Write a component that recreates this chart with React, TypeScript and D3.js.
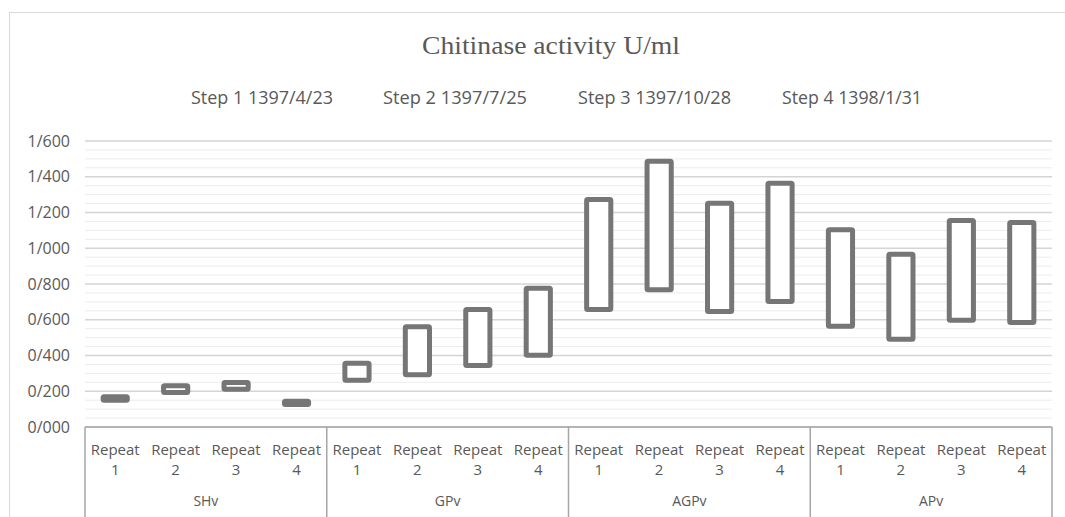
import React from "react";
import * as d3 from "d3";

// ---- data ----
const groups = ["SHv", "GPv", "AGPv", "APv"];
const repeats = ["1", "2", "3", "4"];
const legendLabels = ["Step 1 1397/4/23", "Step 2 1397/7/25", "Step 3 1397/10/28", "Step 4 1398/1/31"];
// top and bottom of each up/down bar, per group (4 repeats each)
const barTop = [
  [0.169, 0.231, 0.249, 0.144],
  [0.357, 0.561, 0.657, 0.776],
  [1.273, 1.487, 1.252, 1.364],
  [1.103, 0.967, 1.155, 1.144],
];
const barBottom = [
  [0.15, 0.193, 0.211, 0.126],
  [0.262, 0.292, 0.344, 0.402],
  [0.657, 0.768, 0.646, 0.702],
  [0.564, 0.491, 0.597, 0.585],
];
const yMax = 1.6;

// ---- layout ----
const W = 1065, H = 517;
const plotLeft = 85, plotRight = 1052, plotTop = 141, plotBottom = 427;
const legendX = [191, 383, 578, 782];
const legendW = [142, 144, 153, 140];
const textColor = "#595959";
const barColor = "#767676";

export default function App() {
  const cats: { key: string; g: number; r: number }[] = [];
  groups.forEach((g, gi) => repeats.forEach((r, ri) => cats.push({ key: g + "-" + r, g: gi, r: ri })));
  const x = d3.scaleBand<string>().domain(cats.map((c) => c.key)).range([plotLeft, plotRight]).padding(0);
  const y = d3.scaleLinear().domain([0, yMax]).range([plotBottom, plotTop]);
  const major = y.ticks(8);
  const minor = y.ticks(40).filter((t) => !major.some((m) => Math.abs(m - t) < 1e-9));
  const fmt = (v: number) => d3.format(".3f")(v).replace(".", "/");
  const bw = x.bandwidth();
  const rectW = bw * 0.4;
  const groupW = bw * repeats.length;

  return (
    <svg width={W} height={H} style={{ position: "absolute", left: 0, top: 0, background: "#fff" }}>
      <rect x={9.5} y={12.5} width={W + 10} height={H + 10} fill="#fff" stroke="#d9d9d9" strokeWidth={1} />
      <text x={551} y={54} textAnchor="middle" fontFamily="Liberation Serif, Times New Roman, serif" fontSize={26} fill={textColor} textLength={258} lengthAdjust="spacingAndGlyphs">
        Chitinase activity U/ml
      </text>
      {legendLabels.map((l, i) => (
        <text key={l} x={legendX[i]} y={104} fontFamily="Open Sans, sans-serif" fontSize={19} fill={textColor} textLength={legendW[i]} lengthAdjust="spacingAndGlyphs">
          {l}
        </text>
      ))}
      {minor.map((t) => (
        <line key={"mi" + t} x1={plotLeft} x2={plotRight} y1={y(t)} y2={y(t)} stroke="#ececec" strokeWidth={1} />
      ))}
      {major.map((t) => (
        <line key={"ma" + t} x1={plotLeft} x2={plotRight} y1={y(t)} y2={y(t)} stroke="#d4d4d4" strokeWidth={1.3} />
      ))}
      {major.map((t) => (
        <text key={"yl" + t} x={70} y={y(t)} dy="0.35em" textAnchor="end" fontFamily="Open Sans, sans-serif" fontSize={16} fill={textColor}>
          {fmt(t)}
        </text>
      ))}
      {/* category axis */}
      <line x1={plotLeft} x2={plotRight} y1={plotBottom} y2={plotBottom} stroke="#a6a6a6" strokeWidth={1.5} />
      {groups.map((g, gi) => {
        const gx = x(g + "-" + repeats[0])!;
        return (
          <g key={g}>
            <line x1={gx} x2={gx} y1={plotBottom} y2={H} stroke="#a6a6a6" strokeWidth={1.5} />
            <text x={gx + groupW / 2} y={506} textAnchor="middle" fontFamily="Open Sans, sans-serif" fontSize={14} fill={textColor}>
              {g}
            </text>
          </g>
        );
      })}
      <line x1={plotRight} x2={plotRight} y1={plotBottom} y2={H} stroke="#a6a6a6" strokeWidth={1.5} />
      {cats.map((c) => (
        <g key={"xl" + c.key} fontFamily="Open Sans, sans-serif" fontSize={15} fill={textColor} textAnchor="middle">
          <text x={x(c.key)! + bw / 2} y={455}>Repeat</text>
          <text x={x(c.key)! + bw / 2} y={475}>{repeats[c.r]}</text>
        </g>
      ))}
      {/* up/down bars */}
      {cats.map((c) => {
        const t = y(barTop[c.g][c.r]);
        const b = y(barBottom[c.g][c.r]);
        return (
          <rect
            key={"b" + c.key}
            x={x(c.key)! + bw / 2 - rectW / 2}
            y={t}
            width={rectW}
            height={b - t}
            fill="#fff"
            stroke={barColor}
            strokeWidth={5}
            rx={1}
          />
        );
      })}
    </svg>
  );
}
